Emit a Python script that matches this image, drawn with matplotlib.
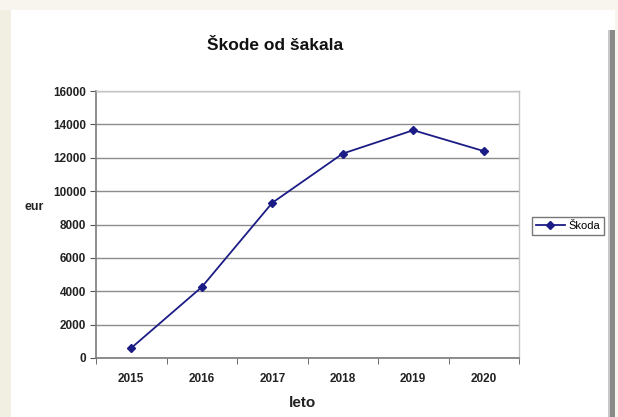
import matplotlib
matplotlib.use("Agg")
import matplotlib.pyplot as plt
from matplotlib.patches import Rectangle

# Damage caused by jackals per year
years = ["2015", "2016", "2017", "2018", "2019", "2020"]
damage = [600, 4250, 9300, 12250, 13650, 12400]
y_ticks = [0, 2000, 4000, 6000, 8000, 10000, 12000, 14000, 16000]

plt.rcParams["font.family"] = ["Liberation Sans", "DejaVu Sans"]

W, H = 618, 417
fig = plt.figure(figsize=(W / 100, H / 100), dpi=100)
fig.patch.set_facecolor("#f8f5ee")

# background layer in pixel coordinates: white slide area and right frame bar
bg = fig.add_axes([0, 0, 1, 1], zorder=-10)
bg.set_xlim(0, W)
bg.set_ylim(H, 0)
bg.axis("off")
bg.add_patch(Rectangle((0, 10), 11, H - 10, facecolor="#f1efe2", edgecolor="none"))
bg.add_patch(Rectangle((11, 10), 604, H - 10, facecolor="white", edgecolor="none"))
bg.add_patch(Rectangle((608, 30), 2, H - 30, facecolor="#c8c8c8", edgecolor="none"))
bg.add_patch(Rectangle((610, 30), 5, H - 30, facecolor="#8a8a8a", edgecolor="none"))

left, right, top, bottom = 96, 519, 91, 358
ax = fig.add_axes([left / W, 1 - bottom / H, (right - left) / W, (bottom - top) / H])
ax.set_facecolor("white")

x = list(range(len(years)))
ax.plot(x, damage, color="#1c1c86", linewidth=1.3, marker="D", markersize=4.5,
        label="Škoda", zorder=3)

ax.set_xlim(-0.5, len(years) - 0.5)
ax.set_ylim(0, 16000)
ax.set_yticks(y_ticks)
ax.set_yticklabels([str(v) for v in y_ticks], fontsize=8.5, fontweight="bold",
                   color="#222222")
ax.set_xticks(x)
ax.set_xticklabels(years, fontsize=8.5, fontweight="bold", color="#222222")
ax.set_xticks([i + 0.5 for i in range(-1, len(years))], minor=True)
ax.tick_params(axis="x", which="major", length=0, pad=11)
ax.tick_params(axis="x", which="minor", length=4, direction="out", color="#555555")
ax.tick_params(axis="y", length=4, direction="out", color="#555555", pad=3)

ax.yaxis.grid(True, color="#8c8c8c", linewidth=1.0)
ax.set_axisbelow(True)
for side in ["left", "bottom"]:
    ax.spines[side].set_color("#7a7a7a")
    ax.spines[side].set_linewidth(1.2)
for side in ["top", "right"]:
    ax.spines[side].set_color("#c4c4c4")
    ax.spines[side].set_linewidth(1.0)

fig.text(275 / W, 1 - 45 / H, "Škode od šakala", ha="center", va="center",
         fontsize=12.5, fontweight="bold", color="#111111")
fig.text(34 / W, 1 - 207 / H, "eur", ha="center", va="center",
         fontsize=9, fontweight="bold", color="#222222")
fig.text(302 / W, 1 - 403 / H, "leto", ha="center", va="center",
         fontsize=11, fontweight="bold", color="#222222")

leg = ax.legend(loc="center", bbox_to_anchor=(568 / W, 1 - 226 / H),
                bbox_transform=fig.transFigure,
                fontsize=8, frameon=True, fancybox=False, handlelength=2.6,
                borderpad=0.35, handletextpad=0.3, borderaxespad=0)
leg.get_frame().set_edgecolor("#555555")
leg.get_frame().set_linewidth(1.0)

fig.savefig("out.png", dpi=100, facecolor=fig.get_facecolor())
